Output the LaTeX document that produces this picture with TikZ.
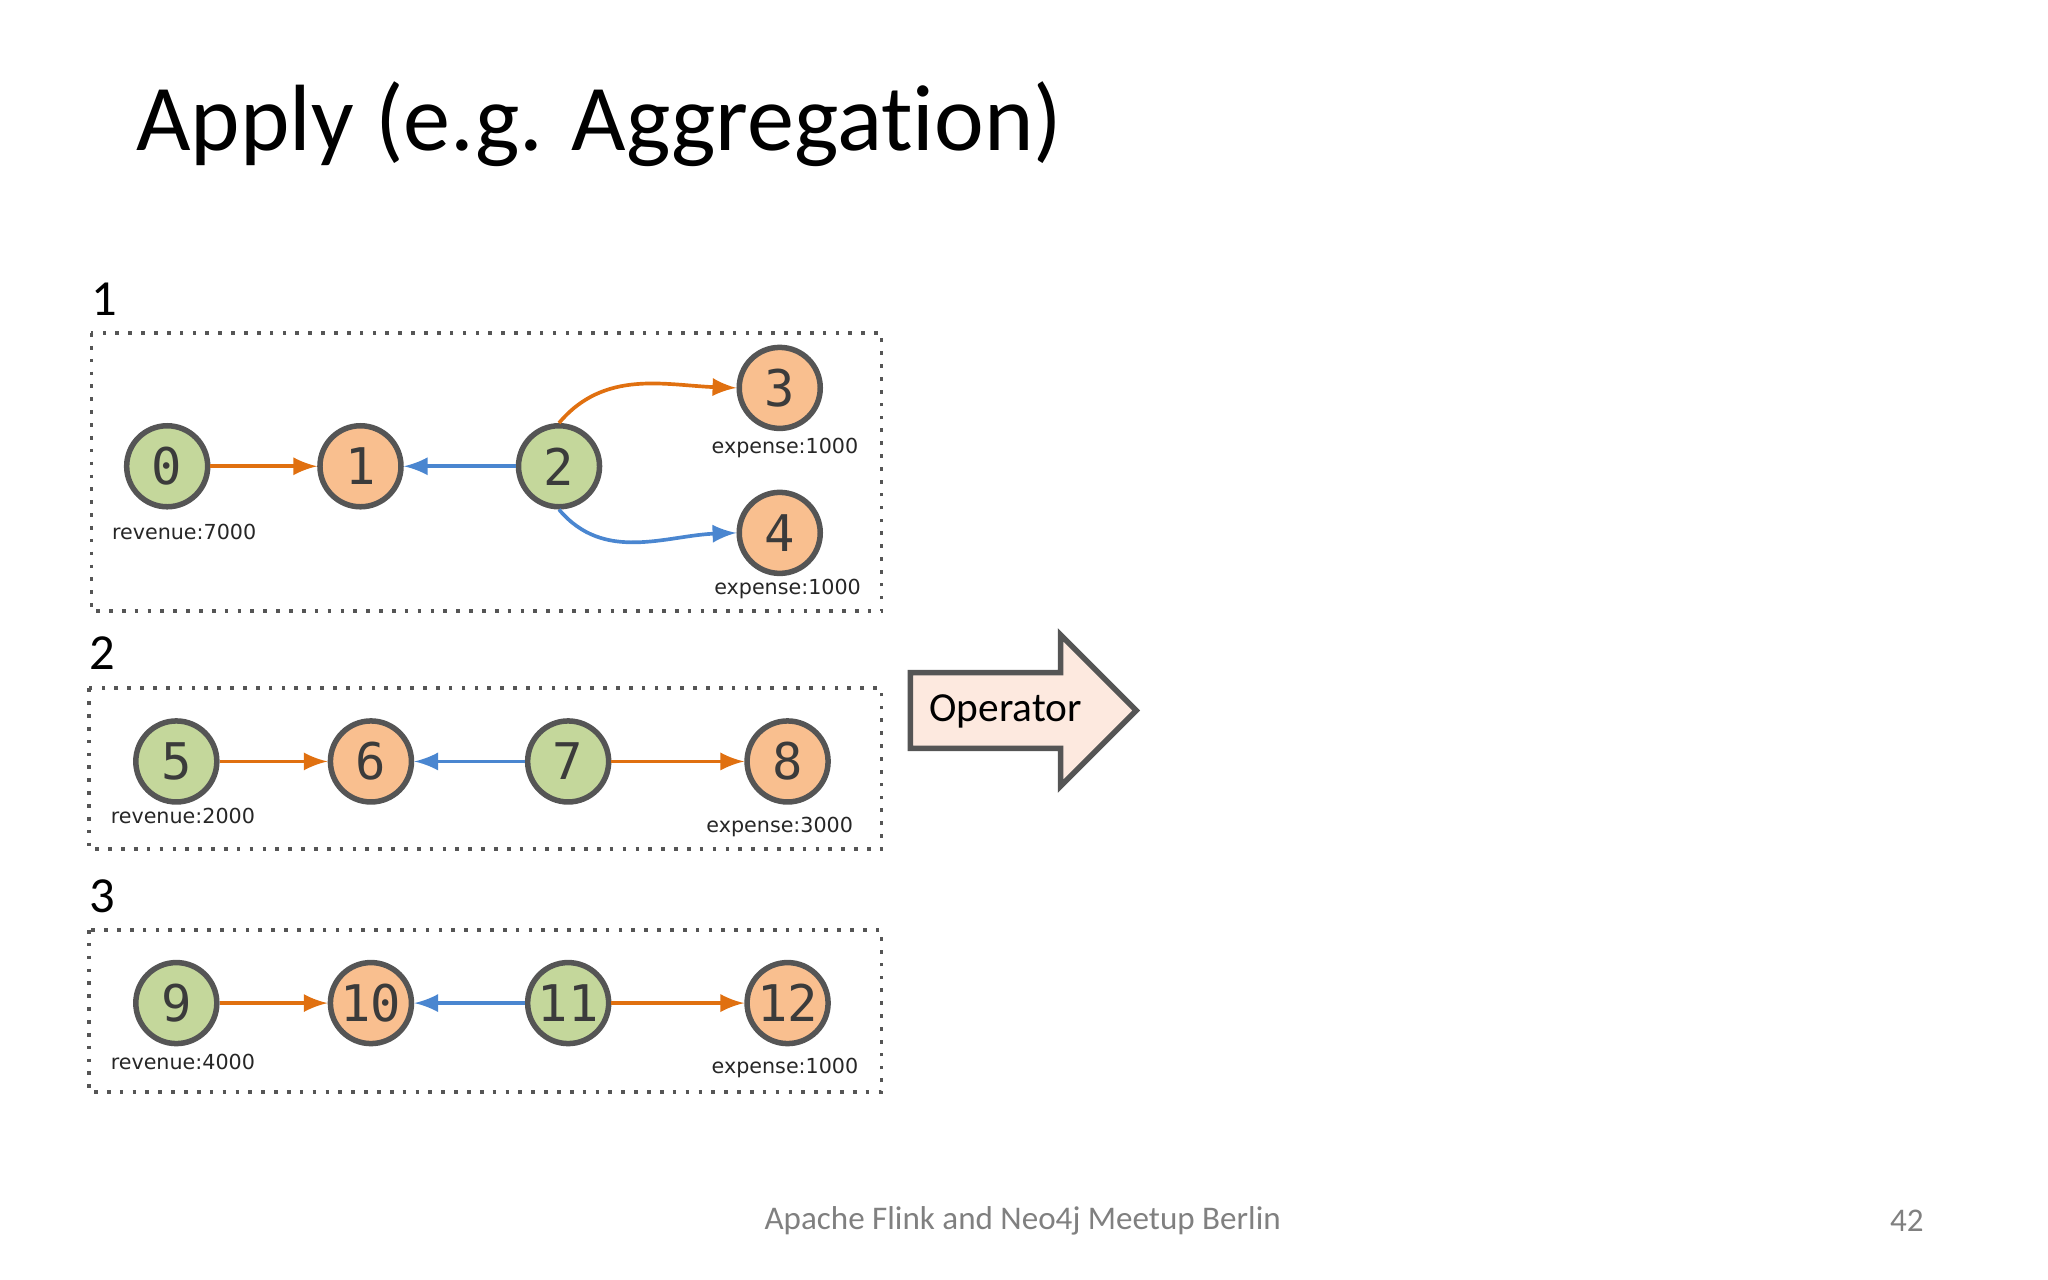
\documentclass[tikz,border=0pt]{standalone}
\usepackage{fontspec}
\setmainfont{Carlito}[Ligatures=NoCommon]
\newfontfamily\monof{DejaVu Sans Mono}
\newfontfamily\smallf{DejaVu Sans}
\definecolor{gfill}{HTML}{C4D79B}
\definecolor{ofill}{HTML}{F9BF8F}
\definecolor{bord}{HTML}{555555}
\definecolor{oedge}{HTML}{E07010}
\definecolor{bedge}{HTML}{4A86D0}
\definecolor{peach}{HTML}{FDE9DF}
\begin{document}
\begin{tikzpicture}[x=0.01cm,y=-0.01cm,
  vg/.style={circle,draw=bord,line width=1.2pt,fill=gfill,minimum size=0.62cm,inner sep=0pt,font=\monof\fontsize{11}{11}\selectfont,text=bord!70!black},
  vo/.style={vg,fill=ofill},
  lab/.style={font=\smallf\fontsize{4.5}{5.5}\selectfont,text=black!85},
  grp/.style={draw=bord,dotted,line width=0.8pt},
  num/.style={font=\fontsize{11}{12}\selectfont,anchor=center},
  oe/.style={draw=oedge,line width=0.8pt,-latex},
  be/.style={draw=bedge,line width=0.8pt,-latex}]
\useasboundingbox (0,0) rectangle (1568,980);
\node[anchor=base west,font=\fontsize{20.5}{24}\selectfont] (title) at (92,115) {Apply (e.g. Aggregation)};
% groups
\node[num] (l1) at (80,229) {1};
\draw[grp] (70,255) rectangle (675,468);
\node[num] (l2) at (78,500) {2};
\draw[grp] (68,527) rectangle (675,650);
\node[num] (l3) at (78,686) {3};
\draw[grp] (68,712) rectangle (675,836);
% group 1
\node[vg] (n0) at (128,357) {0};
\node[vo] (n1) at (276,357) {1};
\node[vg] (n2) at (428,357) {2};
\node[vo] (n3) at (597,297) {3};
\node[vo] (n4) at (597,408) {4};
\node[lab] (r0) at (141,407) {revenue:7000};
\node[lab] (e3) at (601,343) {expense:1000};
\node[lab] (e4) at (603,451) {expense:1000};
\draw[oe] (n0) -- (n1);
\draw[be] (n2) -- (n1);
\draw[oe] (n2.north) to[out=50,in=178] (n3.west);
\draw[be] (n2.south) to[out=-50,in=182] (n4.west);
% group 2
\node[vg] (n5) at (135,583) {5};
\node[vo] (n6) at (284,583) {6};
\node[vg] (n7) at (435,583) {7};
\node[vo] (n8) at (603,583) {8};
\node[lab] (r5) at (140,625) {revenue:2000};
\node[lab] (e8) at (597,633) {expense:3000};
\draw[oe] (n5) -- (n6);
\draw[be] (n7) -- (n6);
\draw[oe] (n7) -- (n8);
% group 3
\node[vg] (n9) at (135,768) {9};
\node[vo] (n10) at (284,768) {10};
\node[vg] (n11) at (435,768) {11};
\node[vo] (n12) at (603,768) {12};
\node[lab] (r9) at (140,813) {revenue:4000};
\node[lab] (e12) at (601,818) {expense:1000};
\draw[oe] (n9) -- (n10);
\draw[be] (n11) -- (n10);
\draw[oe] (n11) -- (n12);
% operator arrow
\draw[draw=bord,fill=peach,line width=1.2pt] (697,515) -- (812,515) -- (812,486) -- (870,544) -- (812,602) -- (812,573) -- (697,573) -- cycle;
\node[font=\fontsize{9}{10}\selectfont] (op) at (770,545) {Operator};
% footer
\node[font=\fontsize{7.2}{8}\selectfont,text=black!50] (foot) at (783,935) {Apache Flink and Neo4j Meetup Berlin};
\node[font=\fontsize{7.2}{8}\selectfont,text=black!50] (pg) at (1460,935) {42};
\end{tikzpicture}
\end{document}
